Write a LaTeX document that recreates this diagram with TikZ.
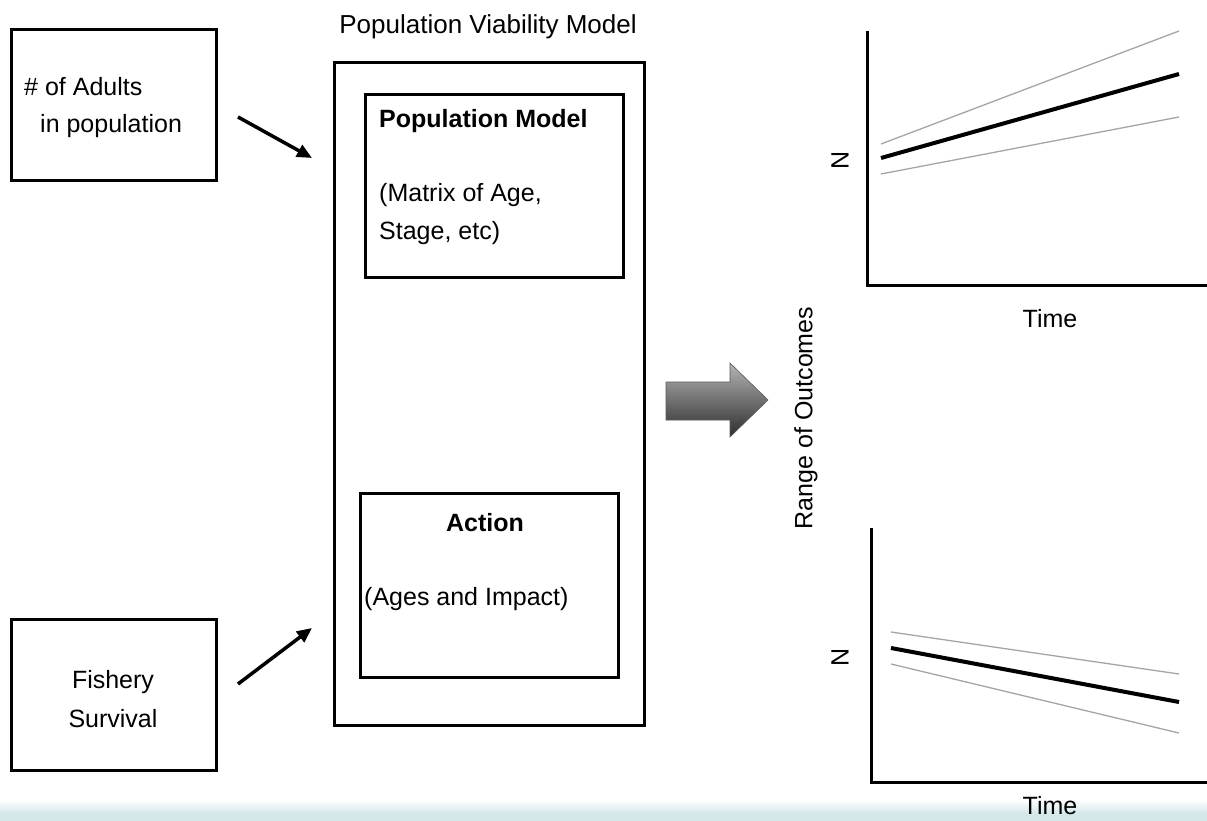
\documentclass[tikz,border=0pt]{standalone}
\usepackage{fontspec}
\setmainfont{Liberation Sans}
\usetikzlibrary{arrows.meta}
\definecolor{stripcol}{RGB}{212,232,234}
\definecolor{rangecol}{RGB}{165,165,165}
\begin{document}
\begin{tikzpicture}[x=1pt,y=-1pt,
  box/.style={draw=black,line width=3pt,minimum width=#1,inner sep=0pt},
  lbl/.style={font=\fontsize{25}{30}\selectfont,inner sep=0pt},
  blbl/.style={font=\fontsize{25}{30}\selectfont\bfseries,inner sep=0pt},
  inarrow/.style={line width=3.5pt,-{Triangle[length=15pt,width=13pt]}},
  axis/.style={line width=3pt,line cap=rect},
  mainline/.style={line width=4pt,black},
  rangeline/.style={line width=1.3pt,rangecol}
]
\useasboundingbox (0,0) rectangle (1207,821);
\fill[white] (0,0) rectangle (1207,821);
% bottom strip
\shade[top color=white,bottom color=stripcol] (0,800) rectangle (1207,813);
\fill[stripcol] (0,813) rectangle (1207,821);

% left input boxes
\node[box=205pt,minimum height=151pt] (adults) at (113.5,105.5) {};
\node[lbl,anchor=base west] (adultsA) at (24,96) {\# of Adults};
\node[lbl,anchor=base west] (adultsB) at (40,133) {in population};

\node[box=205pt,minimum height=151pt] (fishery) at (113.5,694.5) {};
\node[lbl,anchor=base] (fishA) at (113,688) {Fishery};
\node[lbl,anchor=base] (fishB) at (113,727) {Survival};

% PVM
\node[lbl,font=\fontsize{26}{30}\selectfont] (pvmtitle) at (488,27) {Population Viability Model};
\node[box=310pt,minimum height=662pt] (pvm) at (489,394) {};
\node[box=258pt,minimum height=182pt] (popm) at (494,186) {};
\node[blbl,anchor=base west] (popmT) at (379,128) {Population Model};
\node[lbl,anchor=base west] (popmA) at (379,202) {(Matrix of Age,};
\node[lbl,anchor=base west] (popmB) at (379,239) {Stage, etc)};

\node[box=258pt,minimum height=184pt] (action) at (489,585) {};
\node[blbl,anchor=base] (actionT) at (485,531) {Action};
\node[lbl,anchor=base west] (actionA) at (364,605) {(Ages and Impact)};

% input arrows
\coordinate (a1s) at (238,117);
\coordinate (a1e) at (312,158);
\draw[inarrow] (a1s) -- (a1e);
\coordinate (a2s) at (238,684);
\coordinate (a2e) at (312,628);
\draw[inarrow] (a2s) -- (a2e);

% block arrow
\shade[top color={rgb,255:red,180;green,180;blue,180},bottom color={rgb,255:red,45;green,45;blue,45},draw={rgb,255:red,90;green,90;blue,90},line width=0.6pt]
  (666,382) -- (730,382) -- (730,363) -- (768,400) -- (730,437) -- (730,420) -- (666,420) -- cycle;

\node[lbl,rotate=90] (range) at (806,418) {Range of Outcomes};

% top graph
\coordinate (g1t) at (867,33);
\coordinate (g1o) at (867,285);
\coordinate (g1r) at (1210,285);
\draw[axis] (g1t) -- (g1o) -- (g1r);
\coordinate (g1ua) at (881,144); \coordinate (g1ub) at (1179,31);
\coordinate (g1ma) at (881,158); \coordinate (g1mb) at (1179,74);
\coordinate (g1la) at (881,174); \coordinate (g1lb) at (1179,117);
\draw[rangeline] (g1ua) -- (g1ub);
\draw[rangeline] (g1la) -- (g1lb);
\draw[mainline] (g1ma) -- (g1mb);
\node[lbl,rotate=90] (g1N) at (840,160) {N};
\node[lbl] (g1time) at (1050,319) {Time};

% bottom graph
\coordinate (g2t) at (871,529);
\coordinate (g2o) at (871,782);
\coordinate (g2r) at (1210,782);
\draw[axis] (g2t) -- (g2o) -- (g2r);
\coordinate (g2ua) at (891,632); \coordinate (g2ub) at (1179,674);
\coordinate (g2ma) at (891,648); \coordinate (g2mb) at (1179,702);
\coordinate (g2la) at (891,664); \coordinate (g2lb) at (1179,733);
\draw[rangeline] (g2ua) -- (g2ub);
\draw[rangeline] (g2la) -- (g2lb);
\draw[mainline] (g2ma) -- (g2mb);
\node[lbl,rotate=90] (g2N) at (840,657) {N};
\node[lbl] (g2time) at (1050,806) {Time};
\end{tikzpicture}
\end{document}
